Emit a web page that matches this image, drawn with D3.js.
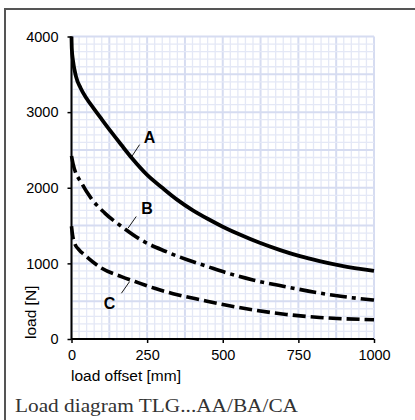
<!DOCTYPE html>
<html><head><meta charset="utf-8">
<script src="https://cdn.jsdelivr.net/npm/d3@7/dist/d3.min.js"></script>
<style>html,body{margin:0;padding:0;background:#fff;overflow:hidden}</style>
</head><body>
<script>
// ---- data ----
const offsetA = [0,1,5,15,30,50,75,100,130,165,200,250,300,350,400,450,500,560,620,690,755,820,890,1000];
const loadA   = [4000,3840,3680,3470,3320,3180,3040,2905,2745,2565,2390,2170,2000,1840,1705,1590,1485,1375,1275,1175,1095,1030,970,900];
const offsetB = [0,5,35,65,110,165,230,310,385,450,505,600,710,820,890,1000];
const loadB   = [2420,2320,2050,1860,1665,1490,1310,1160,1045,958,885,780,690,608,565,515];
const offsetC = [0,3,10,25,44,100,165,210,275,350,430,505,600,710,820,1000];
const loadC   = [1490,1390,1270,1180,1110,935,825,760,670,585,515,452,385,325,285,255];
const seriesNames = ["A","B","C"];
const xTicks = [0,250,500,750,1000];
const yTicks = [0,1000,2000,3000,4000];
const xLabel = "load offset [mm]";
const yLabel = "load [N]";
const caption = "Load diagram TLG...AA/BA/CA";
// label anchor [x,y] and leader line endpoints in data units
const labelPos = [[258,2658],[250,1731],[126,473]];
const leaderFrom = [[198,2405],[187,1466],[165,605]];
const leaderTo = [[225,2570],[214,1620],[192,759]];

const W = 415, H = 420;
const svg = d3.select("body").append("svg").attr("width",W).attr("height",H);
const x = d3.scaleLinear().domain([0,1000]).range([71.5,374]);
const y = d3.scaleLinear().domain([0,4000]).range([339,36.5]);
const sans = "'Liberation Sans', Arial, Helvetica, sans-serif";

// outer frame
svg.append("rect").attr("x",5).attr("y",9).attr("width",W).attr("height",H)
  .attr("fill","none").attr("stroke","#555").attr("stroke-width",2);

// grid
const g = svg.append("g");
const xMinor = d3.range(0,1001,25), yMinor = d3.range(0,4001,100);
g.selectAll(".vx").data(xMinor).join("line")
  .attr("x1",d=>x(d)).attr("x2",d=>x(d)).attr("y1",y(0)).attr("y2",y(4000))
  .attr("stroke",d=>d%125===0?"#d6dcf1":"#e4e8f6").attr("stroke-width",d=>d%125===0?2:1.3);
g.selectAll(".hy").data(yMinor).join("line")
  .attr("y1",d=>y(d)).attr("y2",d=>y(d)).attr("x1",x(0)).attr("x2",x(1000))
  .attr("stroke",d=>d%500===0?"#d6dcf1":"#e4e8f6").attr("stroke-width",d=>d%500===0?2:1.3);

// axes
const xAxis = d3.axisBottom(x).tickValues(xTicks).tickSize(4).tickPadding(7).tickFormat(d3.format("d"));
const yAxis = d3.axisLeft(y).tickValues(yTicks).tickSize(4).tickPadding(9).tickFormat(d3.format("d"));
const ax = svg.append("g").attr("transform",`translate(0,${y(0)})`).call(xAxis);
const ay = svg.append("g").attr("transform",`translate(${x(0)},0)`).call(yAxis);
[ax,ay].forEach(a=>{
  a.select(".domain").attr("stroke","#000").attr("stroke-width",2);
  a.selectAll(".tick line").attr("stroke","#000").attr("stroke-width",1.5);
  a.selectAll("text").attr("font-family",sans).attr("font-size",14.5).attr("fill","#000");
});
ax.select(".domain").attr("d",`M${x(0)},0H${x(1000)}`);
ay.select(".domain").attr("d",`M0,${y(4000)}V${y(0)}`);

// axis titles
svg.append("text").attr("x",71).attr("y",381).attr("font-family",sans).attr("font-size",15.5)
  .attr("fill","#000").text(xLabel);
svg.append("text").attr("transform","translate(35.5,339) rotate(-90)").attr("font-family",sans)
  .attr("font-size",15.5).attr("fill","#000").text(yLabel);

// curves
const line = d3.line().x(d=>x(d[0])).y(d=>y(d[1])).curve(d3.curveMonotoneX);
const data = [d3.zip(offsetA,loadA), d3.zip(offsetB,loadB), d3.zip(offsetC,loadC)];
const dashes = [null,"17,5,4,5","13,5"];
data.forEach((d,i)=>{
  svg.append("path").datum(d).attr("d",line).attr("fill","none").attr("stroke","#000")
    .attr("stroke-width",i===0?3.8:3.6).attr("stroke-dasharray",dashes[i]);
});

// labels with leader lines
seriesNames.forEach((n,i)=>{
  svg.append("line").attr("x1",x(leaderFrom[i][0])).attr("y1",y(leaderFrom[i][1]))
    .attr("x2",x(leaderTo[i][0])).attr("y2",y(leaderTo[i][1])).attr("stroke","#000").attr("stroke-width",0.9);
  svg.append("text").attr("x",x(labelPos[i][0])).attr("y",y(labelPos[i][1]))
    .attr("text-anchor","middle").attr("dominant-baseline","central")
    .attr("font-family",sans).attr("font-weight","bold").attr("font-size",16).attr("fill","#000").text(n);
});

// caption
svg.append("text").attr("x",15).attr("y",411.5).attr("font-family","'Liberation Serif','DejaVu Serif',serif")
  .attr("font-size",19.5).attr("fill","#333").attr("textLength",283).attr("lengthAdjust","spacingAndGlyphs")
  .text(caption);
</script>
</body></html>
